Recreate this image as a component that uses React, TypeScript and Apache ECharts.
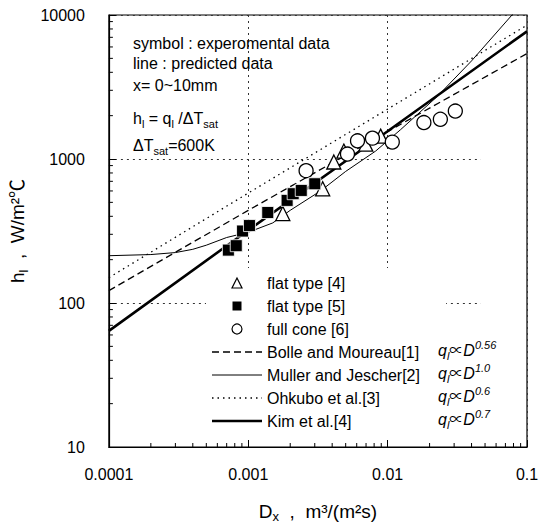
import React, { useEffect, useRef } from 'react';
import * as echarts from 'echarts';

const xTickLabels = ['0.0001', '0.001', '0.01', '0.1'];
const yTickLabels = ['10', '100', '1000', '10000'];
const xDecades = [0.0001, 0.001, 0.01];
const yDecades = [10, 100, 1000];
const minorSteps = [2, 3, 4, 5, 6, 7, 8, 9];

// experimental data
const flatType4: number[][] = [
  [0.00177, 418], [0.00342, 621], [0.00411, 953], [0.00485, 1135], [0.00697, 1268], [0.00891, 1442],
];
const flatType5: number[][] = [
  [0.00072, 233], [0.00082, 250], [0.00091, 316], [0.00102, 345], [0.00138, 425],
  [0.0019, 516], [0.0021, 574], [0.0024, 605], [0.003, 673],
];
const fullCone6: number[][] = [
  [0.0026, 830], [0.00515, 1082], [0.00608, 1337], [0.00778, 1396], [0.0108, 1310],
  [0.0182, 1790], [0.0239, 1888], [0.0306, 2153],
];

// predicted lines
const bolle: number[][] = [[0.0001, 122], [0.001, 440], [0.01, 1550], [0.1, 5400]];
const muller: number[][] = [
  [0.0001, 213], [0.0002, 217], [0.0003, 224], [0.0004, 236], [0.0005, 252], [0.0007, 285],
  [0.001, 310], [0.0015, 360], [0.002, 440], [0.0033, 600], [0.005, 820], [0.0082, 1135],
  [0.0124, 1600], [0.0227, 2717], [0.04, 4800], [0.0863, 11170],
];
const ohkubo: number[][] = [[0.0001, 150], [0.001, 580], [0.01, 2220], [0.1, 8500]];
const kim: number[][] = [[0.0001, 64], [0.001, 320], [0.01, 1560], [0.1, 7700]];

const legendNames = [
  'flat type [4]', 'flat type [5]', 'full cone [6]',
  'Bolle and Moureau[1]', 'Muller and Jescher[2]', 'Ohkubo et al.[3]', 'Kim et al.[4]',
];
const exponents = ['0.56', '1.0', '0.6', '0.7'];

const FONT = '"Liberation Sans", Arial, "Noto Sans CJK SC", sans-serif';

function pickLabel(labels: string[], v: number) {
  for (const l of labels) {
    if (Math.abs(Math.log10(parseFloat(l)) - Math.log10(v)) < 1e-6) return l;
  }
  return '';
}

export default function App() {
  const ref = useRef<HTMLDivElement>(null);
  useEffect(() => {
    if (!ref.current) return;
    const chart = echarts.init(ref.current, undefined, { renderer: 'svg' });

    const sub = { fontSize: 11, lineHeight: 11, verticalAlign: 'bottom' as const, fontFamily: FONT, fill: '#000' };
    const supS = { fontSize: 11, lineHeight: 11, verticalAlign: 'top' as const, fontFamily: FONT, fill: '#000' };
    const norm = { fontSize: 16, lineHeight: 22, fontFamily: FONT, fill: '#000' };

    const rowY = [283, 306, 329, 352, 375, 398, 421];
    const symX = 237;
    const textX = 267;
    const graphics: any[] = [];

    graphics.push({ type: 'rect', z: 1, shape: { x: 206, y: 268, width: 240, height: 172 }, style: { fill: '#fff' }, silent: true });
    graphics.push({ type: 'rect', z: 1, shape: { x: 481, y: 150, width: 45, height: 290 }, style: { fill: '#fff' }, silent: true });

    const annot = (y: number, text: string) => ({
      type: 'text', z: 10, x: 133, y, style: {
        text, fontSize: 16, fontFamily: FONT, fill: '#000', verticalAlign: 'middle',
        rich: { n: norm, s: { ...sub, fontSize: 11 } },
      },
    });
    graphics.push(annot(43, '{n|symbol : experomental data}'));
    graphics.push(annot(63, '{n|line : predicted data}'));
    graphics.push(annot(85, '{n|x= 0~10mm}'));
    graphics.push(annot(118, '{n|h}{s|l}{n| = q}{s|l}{n| /\u0394T}{s|sat}'));
    graphics.push(annot(145, '{n|\u0394T}{s|sat}{n|=600K}'));

    graphics.push({ type: 'polygon', z: 10, shape: { points: [[symX, rowY[0] - 5], [symX - 5, rowY[0] + 5], [symX + 5, rowY[0] + 5]] }, style: { fill: '#fff', stroke: '#000', lineWidth: 1.2 } });
    graphics.push({ type: 'rect', z: 10, shape: { x: symX - 4.5, y: rowY[1] - 4.5, width: 9, height: 9 }, style: { fill: '#000' } });
    graphics.push({ type: 'circle', z: 10, shape: { cx: symX, cy: rowY[2], r: 5 }, style: { fill: '#fff', stroke: '#000', lineWidth: 1.2 } });
    const lineStyles = [
      { lineWidth: 1.3, lineDash: [7, 4] },
      { lineWidth: 1, lineDash: null },
      { lineWidth: 1.3, lineDash: [1.5, 4] },
      { lineWidth: 2.6, lineDash: null },
    ];
    lineStyles.forEach((ls, i) => {
      graphics.push({ type: 'line', z: 10, shape: { x1: 212, y1: rowY[3 + i], x2: 262, y2: rowY[3 + i] }, style: { stroke: '#000', lineWidth: ls.lineWidth, lineDash: ls.lineDash as any } });
    });
    legendNames.forEach((name, i) => {
      graphics.push({ type: 'text', z: 10, x: textX, y: rowY[i], style: { text: name, fontSize: 16, fontFamily: FONT, fill: '#000', verticalAlign: 'middle' } });
    });
    exponents.forEach((e, i) => {
      graphics.push({
        type: 'text', z: 10, x: 438, y: rowY[3 + i] - 2, style: {
          text: `{q|q}{qs|l}{p|\u221D}{q|D}{e|${e}}`, verticalAlign: 'middle', fontFamily: FONT,
          rich: {
            q: { fontSize: 16, lineHeight: 22, fontStyle: 'italic', fontFamily: FONT, fill: '#000' },
            qs: { ...sub, fontStyle: 'italic' },
            p: { fontSize: 14, lineHeight: 22, fontFamily: FONT, fill: '#000' },
            e: { ...supS, fontStyle: 'italic' },
          },
        },
      });
    });

    const xMinor: number[][] = [];
    xDecades.forEach((d) => minorSteps.forEach((m) => xMinor.push([d * m, 10])));
    const yMinor: number[][] = [];
    yDecades.forEach((d) => minorSteps.forEach((m) => yMinor.push([0.0001, d * m])));

    const option: any = {
      animation: false,
      backgroundColor: '#fff',
      grid: { left: 107, right: 23, top: 15, bottom: 78, show: true, borderColor: '#000', borderWidth: 1.2 },
      xAxis: {
        type: 'log', logBase: 10, min: 0.0001, max: 0.1,
        axisLine: { lineStyle: { color: '#000', width: 1.2 } },
        axisTick: { inside: true, length: 7, lineStyle: { color: '#000' } },
        axisLabel: { fontSize: 16, fontFamily: FONT, color: '#000', margin: 19, formatter: (v: number) => pickLabel(xTickLabels, v) },
        splitLine: { show: true, lineStyle: { color: '#333', type: [2, 4], width: 1 } },
        name: '{n|D}{s|x}{n|  ,  m\u00B3/(m\u00B2s)}', nameLocation: 'middle', nameGap: 52,
        nameTextStyle: {
          rich: {
            n: { fontSize: 19, lineHeight: 24, fontFamily: FONT, color: '#000' },
            s: { fontSize: 13, lineHeight: 13, verticalAlign: 'bottom', fontFamily: FONT, color: '#000' },
          },
        },
      },
      yAxis: {
        type: 'log', logBase: 10, min: 10, max: 10000,
        axisLine: { lineStyle: { color: '#000', width: 1.2 } },
        axisTick: { inside: true, length: 7, lineStyle: { color: '#000' } },
        axisLabel: { fontSize: 16, fontFamily: FONT, color: '#000', margin: 24, formatter: (v: number) => pickLabel(yTickLabels, v) },
        splitLine: { show: true, lineStyle: { color: '#333', type: [2, 4], width: 1 } },
        name: '{n|h}{s|l}{n|  ,  W/m\u00B2\u2103}', nameLocation: 'middle', nameGap: 66, nameRotate: 90,
        nameTextStyle: {
          rich: {
            n: { fontSize: 19, lineHeight: 24, fontFamily: FONT, color: '#000' },
            s: { fontSize: 13, lineHeight: 13, verticalAlign: 'bottom', fontFamily: FONT, color: '#000' },
          },
        },
      },
      series: [
        {
          name: 'xMinor', type: 'scatter', data: xMinor, z: 6, silent: true, clip: false,
          symbol: 'rect', symbolSize: [1, 4], symbolOffset: [0, -2],
          itemStyle: { color: '#000', opacity: 1 },
        },
        {
          name: 'yMinor', type: 'scatter', data: yMinor, z: 6, silent: true, clip: false,
          symbol: 'rect', symbolSize: [4, 1], symbolOffset: [2, 0],
          itemStyle: { color: '#000', opacity: 1 },
        },
        { name: 'Bolle', type: 'line', data: bolle, symbol: 'none', z: 3, lineStyle: { color: '#000', width: 1.3, type: [7, 4] } },
        { name: 'Muller', type: 'line', data: muller, symbol: 'none', z: 3, lineStyle: { color: '#000', width: 1 } },
        { name: 'Ohkubo', type: 'line', data: ohkubo, symbol: 'none', z: 3, lineStyle: { color: '#000', width: 1.3, type: [1.5, 4] } },
        { name: 'Kim', type: 'line', data: kim, symbol: 'none', z: 3, lineStyle: { color: '#000', width: 2.6 } },
        { name: 'flat type [4]', type: 'scatter', data: flatType4, symbol: 'triangle', symbolSize: 14, z: 4, itemStyle: { color: '#fff', borderColor: '#000', borderWidth: 1.3, opacity: 1 } },
        { name: 'flat type [5]', type: 'scatter', data: flatType5, symbol: 'rect', symbolSize: 12, z: 5, itemStyle: { color: '#000', borderColor: '#fff', borderWidth: 0.8, opacity: 1 } },
        { name: 'full cone [6]', type: 'scatter', data: fullCone6, symbol: 'circle', symbolSize: 14, z: 4, itemStyle: { color: '#fff', borderColor: '#000', borderWidth: 1.3, opacity: 1 } },
      ],
      graphic: { elements: graphics },
    };
    chart.setOption(option);
    return () => chart.dispose();
  }, []);
  return <div ref={ref} style={{ position: 'fixed', left: 0, top: 0, width: 550, height: 528, background: '#fff' }} />;
}
